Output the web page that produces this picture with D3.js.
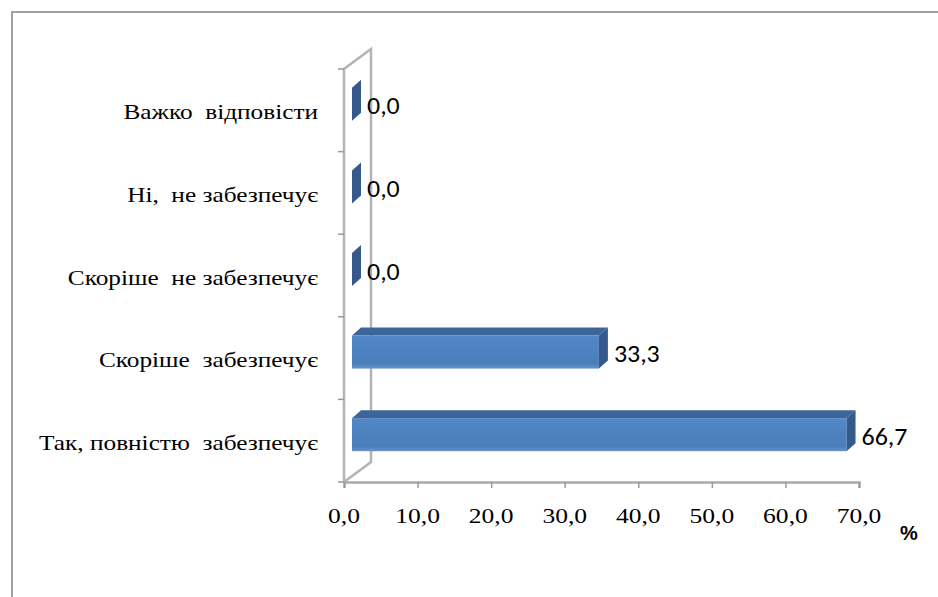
<!DOCTYPE html>
<html><head><meta charset="utf-8">
<script src="https://cdn.jsdelivr.net/npm/d3@7"></script>
</head><body style="margin:0">
<script>
const categories = ["Так, повністю  забезпечує","Скоріше  забезпечує","Скоріше  не забезпечує","Ні,  не забезпечує","Важко  відповісти"];
const values = [66.7, 33.3, 0.0, 0.0, 0.0];
const xTicks = [0,10,20,30,40,50,60,70];
const fmt = v => v.toFixed(1).replace(".", ",");

const SERIF = "Liberation Serif";
const SANS = "Carlito";
const W = 938, H = 597;
const svg = d3.select("body").append("svg").attr("width", W).attr("height", H).style("display","block");

// outer frame
svg.append("path").attr("d", `M12,${H} L12,12 L${W},12`).attr("fill","none").attr("stroke","#a0a0a0").attr("stroke-width",2);

const x = d3.scaleLinear().domain([0,70]).range([344, 859]);
const xb = d3.scaleLinear().domain([0,70]).range([352, 871]); // bar plane (mid depth)
const y = d3.scaleBand().domain(categories).range([482, 69]);
const depth = {dx:27, dy:-20};
const bd = {dx:9, dy:-8};
const barDy = -6;

const defs = svg.append("defs");
const g1 = defs.append("linearGradient").attr("id","front").attr("x1",0).attr("y1",0).attr("x2",0).attr("y2",1);
g1.append("stop").attr("offset","0%").attr("stop-color","#5288c7");
g1.append("stop").attr("offset","85%").attr("stop-color","#4a7ebb");
g1.append("stop").attr("offset","100%").attr("stop-color","#6a94c8");

// walls
const wall = svg.append("g").attr("fill","none").attr("stroke","#b4b4b4").attr("stroke-width",2.5);
const x0 = x(0), yT = y.range()[1], yB = y.range()[0];
wall.append("path").attr("d", `M${x0},${yB} L${x0},${yT} L${x0+depth.dx},${yT+depth.dy} L${x0+depth.dx},${yB+depth.dy} L${x0},${yB}`);

// category ticks
svg.append("g").attr("stroke","#999").attr("stroke-width",1.5)
  .selectAll("line").data(d3.range(categories.length+1)).join("line")
  .attr("x1", x0-6).attr("x2", x0)
  .attr("y1", i => yB - i*y.step()).attr("y2", i => yB - i*y.step());

// x axis line and ticks (labels drawn separately, stretched)
const xAxis = svg.append("g").attr("transform", `translate(0,${yB})`)
  .call(d3.axisBottom(x).tickValues(xTicks).tickFormat("").tickSize(6));
xAxis.select(".domain").attr("stroke","#aaa").attr("stroke-width",2.5);
xAxis.selectAll(".tick line").attr("stroke","#999").attr("stroke-width",1.5);
xAxis.selectAll(".tick text").remove();

svg.append("g").selectAll("text").data(xTicks).join("text")
  .attr("transform", d => `translate(${x(d)},${yB + 41}) scale(1.16,1)`)
  .attr("text-anchor","middle")
  .attr("font-family", SERIF).attr("font-size", 22).attr("fill","#000")
  .text(fmt);

// category labels
svg.append("g").selectAll("text").data(categories).join("text")
  .attr("transform", d => `translate(318,${y(d) + y.bandwidth()/2 + 9}) scale(1.15,1)`)
  .attr("text-anchor","end")
  .attr("font-family", SERIF).attr("font-size", 22).attr("fill","#000")
  .attr("xml:space","preserve").style("white-space","pre").text(d => d);

// bars
const bh = 33;
const bars = svg.append("g");
const labels = svg.append("g");
categories.forEach((c,i) => {
  const v = values[i];
  const cy = y(c) + y.bandwidth()/2 + barDy;
  const xs = xb(0), xe = xb(v);
  const top = cy - bh/2, bot = cy + bh/2;
  if (xe > xs) {
    bars.append("rect").attr("x", xs).attr("y", top).attr("width", xe - xs).attr("height", bh).attr("fill","url(#front)");
    bars.append("path").attr("d", `M${xs},${top} L${xs+bd.dx},${top+bd.dy} L${xe+bd.dx},${top+bd.dy} L${xe},${top} Z`).attr("fill","#3d6698");
  }
  bars.append("path").attr("d", `M${xe},${top} L${xe+bd.dx},${top+bd.dy} L${xe+bd.dx},${bot+bd.dy} L${xe},${bot} Z`).attr("fill","#34598a");
  labels.append("text").attr("transform", `translate(${xe + bd.dx + 6},${cy + 10}) scale(1.08,1)`)
    .attr("font-family", SANS).attr("font-size", 24).attr("fill","#000").text(fmt(v));
});

svg.append("text").attr("x", 900).attr("y", 540).attr("font-family","Liberation Sans")
  .attr("font-weight","bold").attr("font-size", 20).attr("fill","#000").text("%");
</script>
</body></html>
